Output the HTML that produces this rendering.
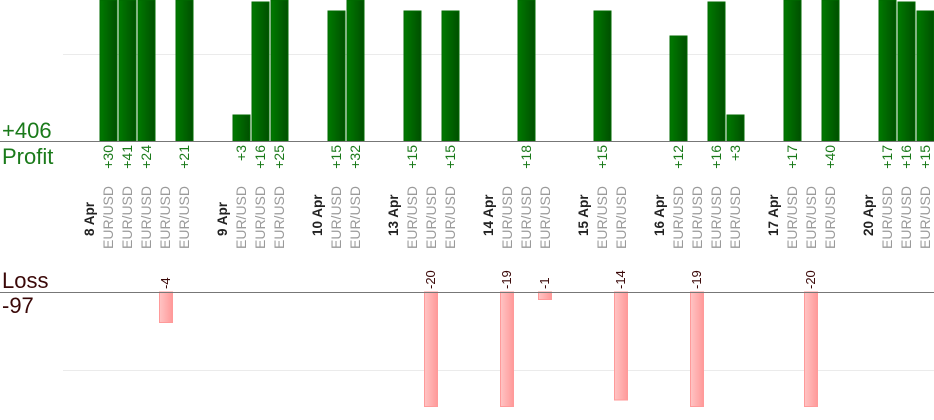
<!DOCTYPE html>
<html><head><meta charset="utf-8"><style>
html,body{margin:0;padding:0;background:#fff;}
svg{display:block;font-family:"Liberation Sans",sans-serif;}
.v{fill:#1a7a1a;font-size:14px;}
.c{fill:#9a9a9a;font-size:14px;}
.d{fill:#222;font-size:13.5px;font-weight:bold;}
.l{fill:#3a0808;font-size:13px;}
</style></head><body>
<svg width="934" height="420" viewBox="0 0 934 420">
<defs>
<linearGradient id="g" x1="0" x2="1" y1="0" y2="0"><stop offset="0" stop-color="#007a00"/><stop offset="1" stop-color="#004f00"/></linearGradient>
<linearGradient id="p" x1="0" x2="1" y1="0" y2="0"><stop offset="0" stop-color="#ffc4c4"/><stop offset="1" stop-color="#ff9999"/></linearGradient>
</defs>
<line x1="63" y1="54.5" x2="934" y2="54.5" stroke="#ebebeb"/>
<line x1="63" y1="370.5" x2="934" y2="370.5" stroke="#ebebeb"/>
<g fill="url(#g)" stroke="#006a00" stroke-width="1">
<rect x="100" y="0" width="17" height="141"/>
<rect x="119" y="0" width="17" height="141"/>
<rect x="138" y="0" width="17" height="141"/>
<rect x="176" y="0" width="17" height="141"/>
<rect x="233" y="115" width="17" height="26"/>
<rect x="252" y="2" width="17" height="139"/>
<rect x="271" y="0" width="17" height="141"/>
<rect x="328" y="11" width="17" height="130"/>
<rect x="347" y="0" width="17" height="141"/>
<rect x="404" y="11" width="17" height="130"/>
<rect x="442" y="11" width="17" height="130"/>
<rect x="518" y="0" width="17" height="141"/>
<rect x="594" y="11" width="17" height="130"/>
<rect x="670" y="36" width="17" height="105"/>
<rect x="708" y="2" width="17" height="139"/>
<rect x="727" y="115" width="17" height="26"/>
<rect x="784" y="0" width="17" height="141"/>
<rect x="822" y="0" width="17" height="141"/>
<rect x="879" y="0" width="17" height="141"/>
<rect x="898" y="2" width="17" height="139"/>
<rect x="917" y="11" width="17" height="130"/>
</g>
<g fill="url(#p)" stroke="#ff9a9a" stroke-width="1">
<rect x="159.5" y="292" width="13" height="30.5"/>
<rect x="424.5" y="292" width="13" height="114.5"/>
<rect x="500.5" y="292" width="13" height="114.5"/>
<rect x="538.5" y="292" width="13" height="7.5"/>
<rect x="614.5" y="292" width="13" height="108"/>
<rect x="690.5" y="292" width="13" height="114.5"/>
<rect x="804.5" y="292" width="13" height="114.5"/>
</g>
<line x1="0" y1="141.5" x2="934" y2="141.5" stroke="#777"/>
<line x1="0" y1="292.5" x2="934" y2="292.5" stroke="#777"/>
<text x="2" y="138" font-size="22" fill="#1a7a1a">+406</text>
<text x="2" y="164" font-size="22" fill="#1a7a1a">Profit</text>
<text x="2" y="288" font-size="22" fill="#3a0808">Loss</text>
<text x="2" y="313" font-size="22" fill="#3a0808">-97</text>
<g class="v" text-anchor="end">
<text transform="translate(113,145) rotate(-90)">+30</text>
<text transform="translate(132,145) rotate(-90)">+41</text>
<text transform="translate(151,145) rotate(-90)">+24</text>
<text transform="translate(189,145) rotate(-90)">+21</text>
<text transform="translate(246,145) rotate(-90)">+3</text>
<text transform="translate(265,145) rotate(-90)">+16</text>
<text transform="translate(284,145) rotate(-90)">+25</text>
<text transform="translate(341,145) rotate(-90)">+15</text>
<text transform="translate(360,145) rotate(-90)">+32</text>
<text transform="translate(417,145) rotate(-90)">+15</text>
<text transform="translate(455,145) rotate(-90)">+15</text>
<text transform="translate(531,145) rotate(-90)">+18</text>
<text transform="translate(607,145) rotate(-90)">+15</text>
<text transform="translate(683,145) rotate(-90)">+12</text>
<text transform="translate(721,145) rotate(-90)">+16</text>
<text transform="translate(740,145) rotate(-90)">+3</text>
<text transform="translate(797,145) rotate(-90)">+17</text>
<text transform="translate(835,145) rotate(-90)">+40</text>
<text transform="translate(892,145) rotate(-90)">+17</text>
<text transform="translate(911,145) rotate(-90)">+16</text>
<text transform="translate(930,145) rotate(-90)">+15</text>
</g>
<g class="l" text-anchor="start">
<text transform="translate(170,289) rotate(-90)">-4</text>
<text transform="translate(435,289) rotate(-90)">-20</text>
<text transform="translate(511,289) rotate(-90)">-19</text>
<text transform="translate(549,289) rotate(-90)">-1</text>
<text transform="translate(625,289) rotate(-90)">-14</text>
<text transform="translate(701,289) rotate(-90)">-19</text>
<text transform="translate(815,289) rotate(-90)">-20</text>
</g>
<g class="d">
<text transform="translate(94,236) rotate(-90)">8 Apr</text>
<text transform="translate(227,236) rotate(-90)">9 Apr</text>
<text transform="translate(322,236) rotate(-90)">10 Apr</text>
<text transform="translate(398,236) rotate(-90)">13 Apr</text>
<text transform="translate(493,236) rotate(-90)">14 Apr</text>
<text transform="translate(588,236) rotate(-90)">15 Apr</text>
<text transform="translate(664,236) rotate(-90)">16 Apr</text>
<text transform="translate(778,236) rotate(-90)">17 Apr</text>
<text transform="translate(873,236) rotate(-90)">20 Apr</text>
</g>
<g class="c">
<text transform="translate(113,249) rotate(-90)">EUR/USD</text>
<text transform="translate(132,249) rotate(-90)">EUR/USD</text>
<text transform="translate(151,249) rotate(-90)">EUR/USD</text>
<text transform="translate(170,249) rotate(-90)">EUR/USD</text>
<text transform="translate(189,249) rotate(-90)">EUR/USD</text>
<text transform="translate(246,249) rotate(-90)">EUR/USD</text>
<text transform="translate(265,249) rotate(-90)">EUR/USD</text>
<text transform="translate(284,249) rotate(-90)">EUR/USD</text>
<text transform="translate(341,249) rotate(-90)">EUR/USD</text>
<text transform="translate(360,249) rotate(-90)">EUR/USD</text>
<text transform="translate(417,249) rotate(-90)">EUR/USD</text>
<text transform="translate(436,249) rotate(-90)">EUR/USD</text>
<text transform="translate(455,249) rotate(-90)">EUR/USD</text>
<text transform="translate(512,249) rotate(-90)">EUR/USD</text>
<text transform="translate(531,249) rotate(-90)">EUR/USD</text>
<text transform="translate(550,249) rotate(-90)">EUR/USD</text>
<text transform="translate(607,249) rotate(-90)">EUR/USD</text>
<text transform="translate(626,249) rotate(-90)">EUR/USD</text>
<text transform="translate(683,249) rotate(-90)">EUR/USD</text>
<text transform="translate(702,249) rotate(-90)">EUR/USD</text>
<text transform="translate(721,249) rotate(-90)">EUR/USD</text>
<text transform="translate(740,249) rotate(-90)">EUR/USD</text>
<text transform="translate(797,249) rotate(-90)">EUR/USD</text>
<text transform="translate(816,249) rotate(-90)">EUR/USD</text>
<text transform="translate(835,249) rotate(-90)">EUR/USD</text>
<text transform="translate(892,249) rotate(-90)">EUR/USD</text>
<text transform="translate(911,249) rotate(-90)">EUR/USD</text>
<text transform="translate(930,249) rotate(-90)">EUR/USD</text>
</g>
</svg>
</body></html>
